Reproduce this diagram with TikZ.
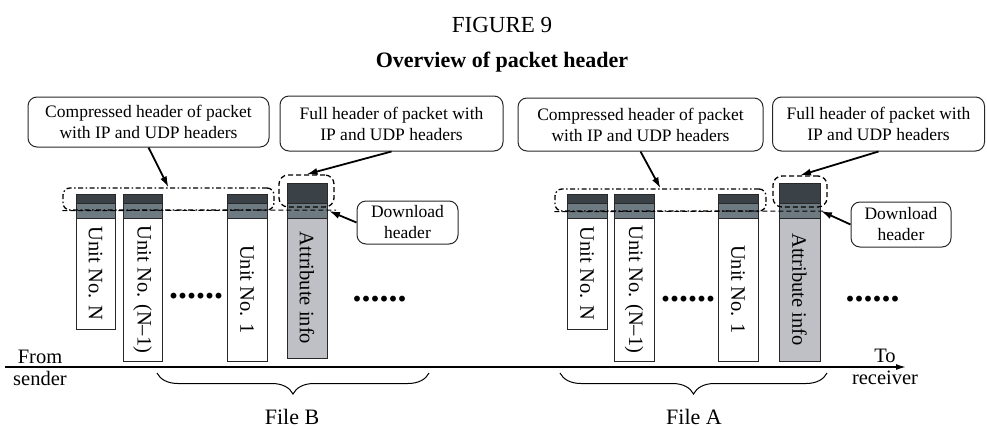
\documentclass[tikz,border=0pt]{standalone}
\usepackage{fontspec}
\setmainfont{Liberation Serif}
\usetikzlibrary{arrows.meta,decorations.pathreplacing}
\definecolor{hdrdark}{RGB}{58,66,72}
\definecolor{hdrmid}{RGB}{110,122,130}
\definecolor{attrgray}{RGB}{190,192,197}
\definecolor{edgegray}{RGB}{40,40,40}

\begin{document}
\begin{tikzpicture}[x=1pt,y=-1pt,
    callout/.style={draw=edgegray,line width=1pt,rounded corners=9pt,align=center,inner sep=0pt,font=\fontsize{17.5}{21}\selectfont},
    unitcol/.style={draw=edgegray,line width=1pt,fill=white,rotate=-90,inner sep=0pt,font=\fontsize{20.5}{24}\selectfont},
    bandtop/.style={draw=edgegray,line width=1pt,fill=hdrdark},
    bandmid/.style={draw=edgegray,line width=1pt,fill=hdrmid},
    grpbox/.style={draw,dash pattern=on 5pt off 2.5pt on 1.5pt off 2.5pt,line width=1.3pt,rounded corners=7pt,inner sep=0pt},
    headbox/.style={draw,dash pattern=on 5pt off 3pt,line width=1.3pt,rounded corners=9pt,inner sep=0pt},
    midline/.style={dash pattern=on 5pt off 3pt,line width=1pt},
    pointer/.style={-{Latex[length=11pt,width=7pt]},line width=1.8pt},
    dotrow/.style={font=\bfseries\fontsize{36}{36}\selectfont,inner sep=0pt,anchor=base},
    filebrace/.style={decorate,decoration={brace,mirror,amplitude=21pt},line width=1pt},
    lbl/.style={font=\fontsize{22}{26}\selectfont,inner sep=0pt},
    ends/.style={align=center,inner sep=0pt,font=\fontsize{20.5}{22}\selectfont}]
    \useasboundingbox (0,0) rectangle (987,429);
    \node[font=\fontsize{23}{26}\selectfont,anchor=base] (fig) at (502,32) {FIGURE 9};
    \node[font=\bfseries\fontsize{22}{26}\selectfont,anchor=base] (ttl) at (502,67) {Overview of packet header};

    \node[unitcol,minimum width=111pt,minimum height=39pt] (unitNB) at (95.5,273.5) {Unit No. N};
    \node[unitcol,minimum width=143pt,minimum height=39pt] (unitNmB) at (142.5,289.5) {Unit No. (N--1)};
    \node[unitcol,minimum width=143pt,minimum height=40pt] (unitOneB) at (247,289.5) {Unit No. 1};
    \node[unitcol,fill=attrgray,minimum width=140pt,minimum height=40pt] (attrB) at (307,288) {Attribute info};
    \node[unitcol,minimum width=111pt,minimum height=40pt] (unitNA) at (587,273.5) {Unit No. N};
    \node[unitcol,minimum width=143pt,minimum height=40pt] (unitNmA) at (634,289.5) {Unit No. (N--1)};
    \node[unitcol,minimum width=143pt,minimum height=40pt] (unitOneA) at (738,289.5) {Unit No. 1};
    \node[unitcol,fill=attrgray,minimum width=143pt,minimum height=41pt] (attrA) at (799.5,289.5) {Attribute info};

    \draw[bandtop] (76,194) rectangle (115,203);
    \draw[bandmid] (76,203) rectangle (115,218);
    \draw[bandtop] (123,194) rectangle (162,203);
    \draw[bandmid] (123,203) rectangle (162,218);
    \draw[bandtop] (227,194) rectangle (267,203);
    \draw[bandmid] (227,203) rectangle (267,218);
    \draw[bandtop] (287,183) rectangle (327,203);
    \draw[bandmid] (287,203) rectangle (327,218);
    \draw[bandtop] (567,194) rectangle (607,203);
    \draw[bandmid] (567,203) rectangle (607,218);
    \draw[bandtop] (614,194) rectangle (654,203);
    \draw[bandmid] (614,203) rectangle (654,218);
    \draw[bandtop] (718,194) rectangle (758,203);
    \draw[bandmid] (718,203) rectangle (758,218);
    \draw[bandtop] (779,183) rectangle (820,203);
    \draw[bandmid] (779,203) rectangle (820,218);

    \node[grpbox,minimum width=211pt,minimum height=22pt] (grpB) at (168.5,199) {};
    \node[grpbox,minimum width=211pt,minimum height=22pt] (grpA) at (660.5,200) {};
    \node[headbox,minimum width=55pt,minimum height=32pt] (headB) at (306.5,191) {};
    \node[headbox,minimum width=54pt,minimum height=31pt] (headA) at (800,191.5) {};
    \draw[midline] (grpB.south west) -- (336,210);
    \draw[midline] (grpA.south west) -- (823,211);

    \node[dotrow] (gapB) at (196,298) {......};
    \node[dotrow] (moreB) at (379.5,301) {......};
    \node[dotrow] (gapA) at (688,301) {......};
    \node[dotrow] (moreA) at (872.5,301) {......};

    \node[callout,minimum width=241pt,minimum height=50pt] (compB) at (148.5,122) {Compressed header of packet\\with IP and UDP headers};
    \node[callout,minimum width=223pt,minimum height=55pt] (fullB) at (391.5,123.5) {Full header of packet with\\IP and UDP headers};
    \node[callout,minimum width=245pt,minimum height=53pt] (compA) at (640.5,124.5) {Compressed header of packet\\with IP and UDP headers};
    \node[callout,minimum width=212pt,minimum height=54pt] (fullA) at (878.5,124) {Full header of packet with\\IP and UDP headers};
    \node[callout,minimum width=101pt,minimum height=43pt] (dlB) at (407.5,222.5) {Download\\header};
    \node[callout,minimum width=100pt,minimum height=45pt] (dlA) at (901,224.5) {Download\\header};
    \coordinate (dltipB) at (329,211);
    \coordinate (dltipA) at (821,211);

    \draw[pointer] (compB.south) -- (grpB.north);
    \draw[pointer] (fullB.south) -- (headB.north);
    \draw[pointer] (dlB.west) -- (dltipB);
    \draw[pointer] (compA.south) -- (grpA.north);
    \draw[pointer] (fullA.south) -- (headA.north);
    \draw[pointer] (dlA.west) -- (dltipA);

    \coordinate (axstart) at (5,367);
    \coordinate (axend) at (906,367);
    \draw[-{Latex[length=10pt,width=6pt]},line width=1.5pt] (axstart) -- (axend);
    \node[ends] (sender) at (40,368) {From\\sender};
    \node[ends] (receiver) at (885,366.5) {To\\receiver};

    \coordinate (braceBl) at (157,373);
    \coordinate (braceBr) at (429,373);
    \coordinate (braceAl) at (560,373);
    \coordinate (braceAr) at (827,373);
    \draw[filebrace] (braceBl) -- (braceBr);
    \draw[filebrace] (braceAl) -- (braceAr);
    \node[lbl] (fileB) at (292,417) {File B};
    \node[lbl] (fileA) at (694,417) {File A};
\end{tikzpicture}
\end{document}
